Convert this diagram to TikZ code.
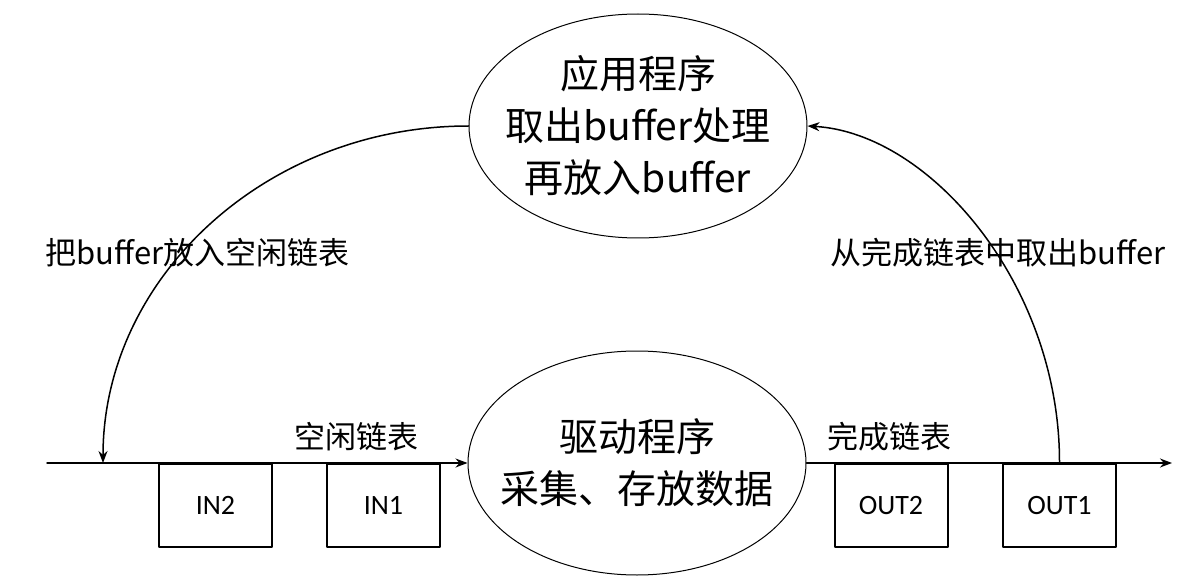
\documentclass[tikz,border=0pt]{standalone}
\usepackage{fontspec}
\newfontfamily\cjk{Noto Sans CJK SC}
\newfontfamily\boxfont{Carlito}
\usetikzlibrary{shapes.geometric,arrows.meta}
\tikzset{
  prog/.style={ellipse, draw, line width=0.5pt, inner sep=0pt, minimum width=169pt, minimum height=112pt},
  progtext/.style={align=center, inner sep=0pt, font=\cjk\fontsize{19.5}{26}\selectfont},
  buf/.style={rectangle, draw, line width=1pt, anchor=north, minimum width=56.5pt, minimum height=41.5pt, font=\boxfont\fontsize{14}{16}\selectfont},
  lbl/.style={inner sep=0pt, font=\cjk\fontsize{15.5}{18}\selectfont}
}
\begin{document}
\begin{tikzpicture}[x=0.5pt, y=0.5pt, line join=round, line cap=round, line width=0.75pt, >={Stealth[length=6pt,width=4.5pt]}]
			\useasboundingbox (0,0) rectangle (1190,585);
			%%%%%%%%%%%%%%%%%%%%%%%%%%%%%%%%%
			\node[prog] (app) at (638,459) {};
			\node[progtext] (apptext) at (app) {应用程序\\取出buffer处理\\再放入buffer};
			\node[prog] (drv) at (637,122) {};
			\node[progtext] (drvtext) at (drv) {驱动程序\\采集、存放数据};
			%%%%%%%%%%%%%%%%%%%%%%%%%%%%%%%%%
			\node[buf] (in2) at (215.5,122) {IN2};
			\node[buf] (in1) at (383.5,122) {IN1};
			\node[buf] (out2) at (891,122) {OUT2};
			\node[buf] (out1) at (1059.5,122) {OUT1};
			%%%%%%%%%%%%%%%%%%%%%%%%%%%%%%%%%
			\node[lbl, anchor=west] (put) at (45,332) {把buffer放入空闲链表};
			\node[lbl, anchor=west] (take) at (830,332) {从完成链表中取出buffer};
			\node[lbl] (free) at (356,148) {空闲链表};
			\node[lbl] (done) at (889,148) {完成链表};
			%%%%%%%%%%%%%%%%%%%%%%%%%%%%%%%%%
			\coordinate (start) at (47,122);
			\coordinate (end) at (1172,122);
			\coordinate (drop) at (103,122);
			\draw[->] (start) -- (drv.west);
			\draw[->] (drv.east) -- (end);
			\draw[->] (app.west) .. controls (267,459) and (103,308) .. (drop);
			\draw[->] (out1.north) .. controls (1060,300) and (930,452) .. (app.east);
			%%%%%%%%%%%%%%%%%%%%%%%%%%%%%%%%%
		\end{tikzpicture}
\end{document}
